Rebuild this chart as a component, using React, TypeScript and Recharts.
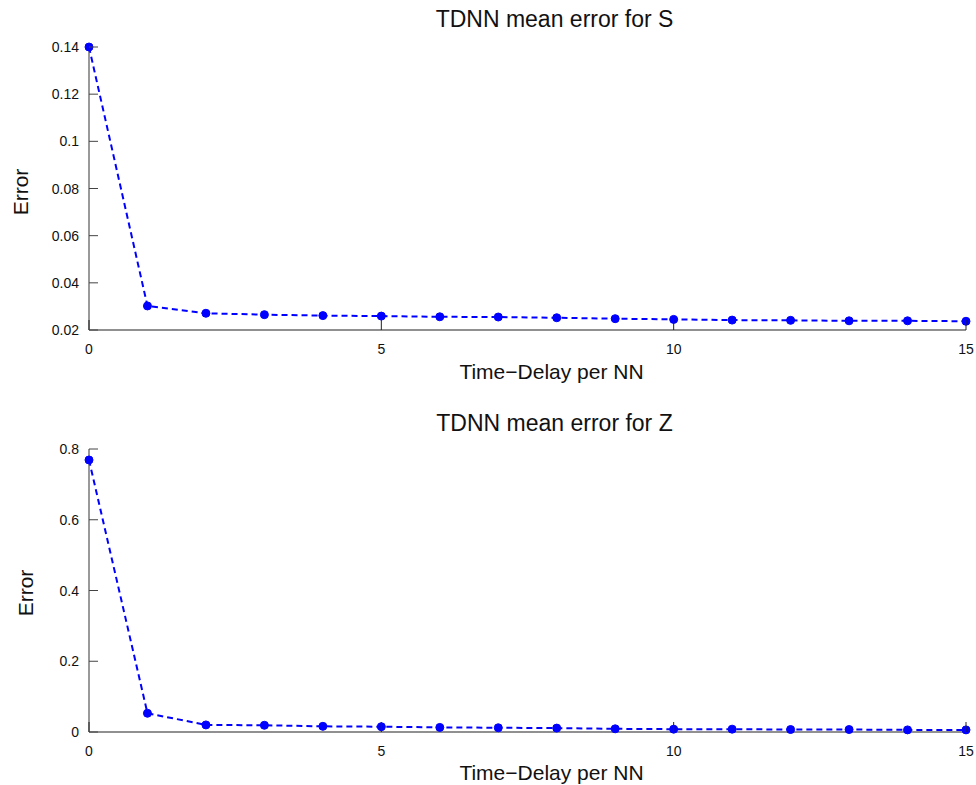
import React from "react";
import { Line, LineChart, XAxis, YAxis } from "recharts";

// time-delay steps per NN
const delays = [0, 1, 2, 3, 4, 5, 6, 7, 8, 9, 10, 11, 12, 13, 14, 15];

// mean error for S and Z
const errorS = [
  0.14, 0.0302, 0.0271, 0.0265, 0.0261, 0.0259, 0.0256, 0.0255, 0.0252, 0.0248,
  0.0245, 0.0242, 0.0241, 0.0239, 0.0239, 0.0237,
];
const errorZ = [
  0.769, 0.053, 0.02, 0.019, 0.016, 0.015, 0.013, 0.012, 0.011, 0.009, 0.008,
  0.008, 0.007, 0.007, 0.006, 0.006,
];

const xTicks = [0, 5, 10, 15];
const yTicksS = [0.02, 0.04, 0.06, 0.08, 0.1, 0.12, 0.14];
const yTicksZ = [0, 0.2, 0.4, 0.6, 0.8];

const titles = ["TDNN mean error for S", "TDNN mean error for Z"];
const xLabel = "Time\u2212Delay per NN";
const yLabel = "Error";

const FONT = '"Liberation Sans", Arial, Helvetica, sans-serif';
const BLUE = "#0000ff";

const dataS = delays.map((d, i) => ({ delay: d, err: errorS[i] }));
const dataZ = delays.map((d, i) => ({ delay: d, err: errorZ[i] }));

// ticks drawn inside the plot, labels outside
const XTick = (props: any) => {
  const { x, y, payload } = props;
  return (
    <g>
      <line x1={x} x2={x} y1={y} y2={y - 10} stroke="#222" strokeWidth={1} />
      <text
        x={x}
        y={y + 19}
        textAnchor="middle"
        dominantBaseline="central"
        fontSize={14}
        fontFamily={FONT}
        fill="#111"
      >
        {payload.value}
      </text>
    </g>
  );
};

const YTick = (props: any) => {
  const { x, y, payload } = props;
  return (
    <g>
      <line x1={x} x2={x + 9} y1={y} y2={y} stroke="#444" strokeWidth={1} />
      <text
        x={x - 10}
        y={y}
        textAnchor="end"
        dominantBaseline="central"
        fontSize={14}
        fontFamily={FONT}
        fill="#111"
      >
        {String(payload.value)}
      </text>
    </g>
  );
};

interface PanelProps {
  data: { delay: number; err: number }[];
  yTicks: number[];
  height: number;
  top: number;
  xHeight: number;
}

const Panel: React.FC<PanelProps> = ({ data, yTicks, height, top, xHeight }) => (
  <LineChart
    width={976}
    height={height}
    data={data}
    margin={{ top, right: 10, bottom: 0, left: 0 }}
  >
    <XAxis
      dataKey="delay"
      type="number"
      domain={[0, 15]}
      ticks={xTicks}
      height={xHeight}
      tickSize={0}
      tickMargin={0}
      tickLine={false}
      tick={<XTick />}
      axisLine={{ stroke: "#222", strokeWidth: 1.2 }}
    />
    <YAxis
      type="number"
      domain={[yTicks[0], yTicks[yTicks.length - 1]]}
      ticks={yTicks}
      width={89}
      tickSize={0}
      tickMargin={0}
      tickLine={false}
      tick={<YTick />}
      axisLine={{ stroke: "#555", strokeWidth: 1.2 }}
    />
    <Line
      dataKey="err"
      stroke={BLUE}
      strokeWidth={2}
      strokeDasharray="6 4"
      dot={{ r: 4, fill: BLUE, stroke: BLUE, strokeWidth: 1, strokeDasharray: "" }}
      isAnimationActive={false}
    />
  </LineChart>
);

export default function App() {
  return (
    <div
      style={{
        position: "absolute",
        left: 0,
        top: 0,
        width: 976,
        height: 785,
        background: "#fff",
      }}
    >
      <div style={{ position: "absolute", left: 0, top: 0 }}>
        <Panel data={dataS} yTicks={yTicksS} height={392} top={47} xHeight={62} />
      </div>
      <div style={{ position: "absolute", left: 0, top: 392 }}>
        <Panel data={dataZ} yTicks={yTicksZ} height={393} top={57} xHeight={53} />
      </div>
      <svg
        width={976}
        height={785}
        style={{ position: "absolute", left: 0, top: 0, pointerEvents: "none" }}
        fontFamily={FONT}
        fill="#111"
      >
        <text x={554.5} y={27} textAnchor="middle" fontSize={23}>
          {titles[0]}
        </text>
        <text x={554.5} y={431} textAnchor="middle" fontSize={23}>
          {titles[1]}
        </text>
        <text x={551.5} y={379} textAnchor="middle" fontSize={21}>
          {xLabel}
        </text>
        <text x={551.5} y={780} textAnchor="middle" fontSize={21}>
          {xLabel}
        </text>
        <text x={28} y={192} textAnchor="middle" fontSize={21} transform="rotate(-90 28 192)">
          {yLabel}
        </text>
        <text x={33} y={593} textAnchor="middle" fontSize={21} transform="rotate(-90 33 593)">
          {yLabel}
        </text>
      </svg>
    </div>
  );
}
